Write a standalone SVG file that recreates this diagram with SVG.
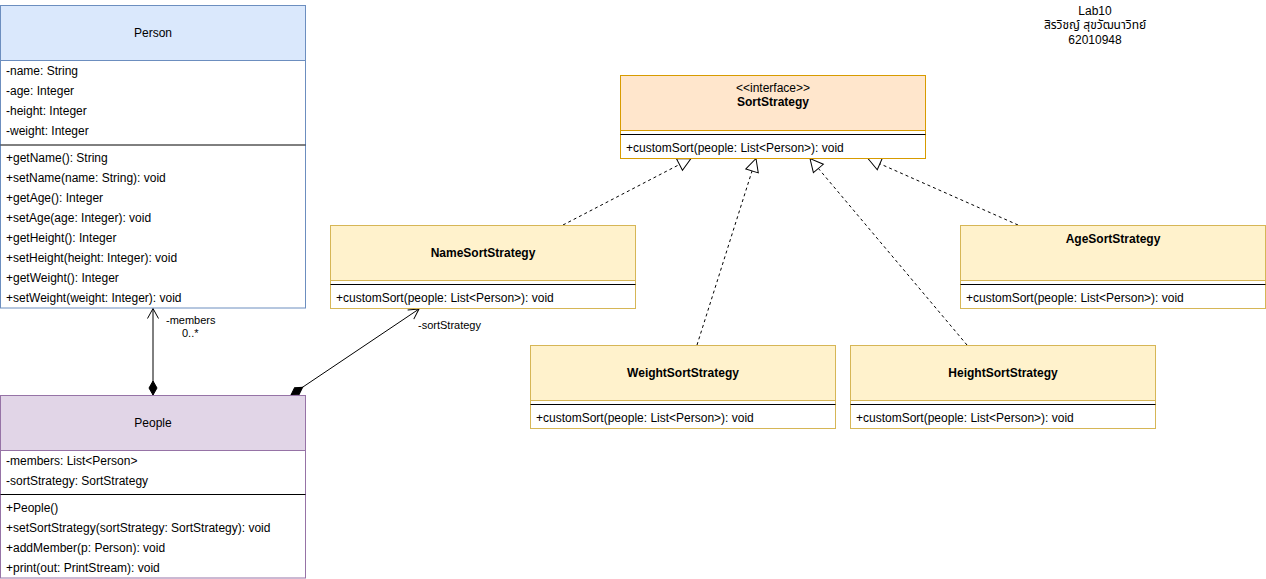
<svg xmlns="http://www.w3.org/2000/svg" width="1266" height="579" viewBox="0 0 1266 579">
  <style>
    text { font-family: "Liberation Sans", Arial, "Noto Sans Thai", sans-serif; font-size: 12px; fill: #000; dominant-baseline: central; }
    .title { text-anchor: middle; }
    .bold { font-weight: bold; }
    .lbl { font-size: 11px; }
    .mid { text-anchor: middle; }
    .body { fill: #ffffff; }
    .sep { stroke: #000; stroke-width: 1; }
    .blue { fill: #dae8fc; stroke: #6c8ebf; }
    .purple { fill: #e1d5e7; stroke: #9673a6; }
    .orange { fill: #ffe6cc; stroke: #d79b00; }
    .yellow { fill: #fff2cc; stroke: #d6b656; }
    .edge { fill: none; stroke: #000; stroke-width: 1; }
    .dash { stroke-dasharray: 3 3; }
  </style>
  <defs>
    <marker id="diamond" markerUnits="userSpaceOnUse" markerWidth="16" markerHeight="10" refX="0" refY="0" orient="auto" overflow="visible">
      <path d="M0,0 L7,-4 L14,0 L7,4 Z" fill="#000" stroke="#000" stroke-width="1"/>
    </marker>
    <marker id="open" markerUnits="userSpaceOnUse" markerWidth="12" markerHeight="12" refX="0" refY="0" orient="auto" overflow="visible">
      <path d="M-10,-5.5 L0,0 L-10,5.5" fill="none" stroke="#000" stroke-width="1"/>
    </marker>
    <marker id="triangle" markerUnits="userSpaceOnUse" markerWidth="14" markerHeight="14" refX="0" refY="0" orient="auto" overflow="visible">
      <path d="M-13,-6.5 L0,0 L-13,6.5 Z" fill="#fff" stroke="#000" stroke-width="1" stroke-dasharray="none"/>
    </marker>
  </defs>

  <rect x="0" y="0" width="1266" height="579" fill="#ffffff"/>

  <!-- connectors -->
  <g id="connectors">
    <path class="edge" d="M153,395 L153,308.5" marker-start="url(#diamond)" marker-end="url(#open)"/>
    <path class="edge" d="M291,395 L419,309" marker-start="url(#diamond)" marker-end="url(#open)"/>
    <path class="edge dash" d="M563,225 L691,158.5" marker-end="url(#triangle)"/>
    <path class="edge dash" d="M697,345 L756,158.5" marker-end="url(#triangle)"/>
    <path class="edge dash" d="M967,345 L810,158.5" marker-end="url(#triangle)"/>
    <path class="edge dash" d="M1018,225 L868,158.5" marker-end="url(#triangle)"/>
    <text class="lbl" x="166" y="320">-members</text>
    <text class="lbl" x="182" y="333">0..*</text>
    <text class="lbl" x="418" y="325">-sortStrategy</text>
  </g>

  <!-- Person -->
  <g id="person">
    <rect class="body" x="0.5" y="5.5" width="305" height="302.5" stroke="#6c8ebf"/>
    <rect class="blue" x="0.5" y="5.5" width="305" height="55"/>
    <text class="title" x="153" y="33">Person</text>
    <text x="6" y="71">-name: String</text>
    <text x="6" y="91">-age: Integer</text>
    <text x="6" y="111">-height: Integer</text>
    <text x="6" y="131">-weight: Integer</text>
    <line class="sep" x1="0.5" y1="145" x2="305.5" y2="145"/>
    <text x="6" y="158">+getName(): String</text>
    <text x="6" y="178">+setName(name: String): void</text>
    <text x="6" y="198">+getAge(): Integer</text>
    <text x="6" y="218">+setAge(age: Integer): void</text>
    <text x="6" y="238">+getHeight(): Integer</text>
    <text x="6" y="258">+setHeight(height: Integer): void</text>
    <text x="6" y="278">+getWeight(): Integer</text>
    <text x="6" y="298">+setWeight(weight: Integer): void</text>
  </g>

  <!-- People -->
  <g id="people">
    <rect class="body" x="0.5" y="395.5" width="305" height="182.5" stroke="#9673a6"/>
    <rect class="purple" x="0.5" y="395.5" width="305" height="55"/>
    <text class="title" x="153" y="423">People</text>
    <text x="6" y="461">-members: List&lt;Person&gt;</text>
    <text x="6" y="481">-sortStrategy: SortStrategy</text>
    <line class="sep" x1="0.5" y1="494.5" x2="305.5" y2="494.5"/>
    <text x="6" y="508">+People()</text>
    <text x="6" y="528">+setSortStrategy(sortStrategy: SortStrategy): void</text>
    <text x="6" y="548">+addMember(p: Person): void</text>
    <text x="6" y="568">+print(out: PrintStream): void</text>
  </g>

  <!-- SortStrategy interface -->
  <g id="sort-strategy">
    <rect class="body" x="620.5" y="75.5" width="305" height="83" stroke="#d79b00"/>
    <rect class="orange" x="620.5" y="75.5" width="305" height="55"/>
    <text class="title" x="773" y="88">&lt;&lt;interface&gt;&gt;</text>
    <text class="title bold" x="773" y="102">SortStrategy</text>
    <line class="sep" x1="620.5" y1="134.5" x2="925.5" y2="134.5"/>
    <text x="626" y="148">+customSort(people: List&lt;Person&gt;): void</text>
  </g>

  <!-- NameSortStrategy -->
  <g id="name-sort-strategy">
    <rect class="body" x="330.5" y="225.5" width="305" height="83" stroke="#d6b656"/>
    <rect class="yellow" x="330.5" y="225.5" width="305" height="55"/>
    <text class="title bold" x="483" y="253">NameSortStrategy</text>
    <line class="sep" x1="330.5" y1="284.5" x2="635.5" y2="284.5"/>
    <text x="336" y="298">+customSort(people: List&lt;Person&gt;): void</text>
  </g>

  <!-- AgeSortStrategy -->
  <g id="age-sort-strategy">
    <rect class="body" x="960.5" y="225.5" width="305" height="83" stroke="#d6b656"/>
    <rect class="yellow" x="960.5" y="225.5" width="305" height="55"/>
    <text class="title bold" x="1113" y="239">AgeSortStrategy</text>
    <line class="sep" x1="960.5" y1="284.5" x2="1265.5" y2="284.5"/>
    <text x="966" y="298">+customSort(people: List&lt;Person&gt;): void</text>
  </g>

  <!-- WeightSortStrategy -->
  <g id="weight-sort-strategy">
    <rect class="body" x="530.5" y="345.5" width="305" height="83" stroke="#d6b656"/>
    <rect class="yellow" x="530.5" y="345.5" width="305" height="55"/>
    <text class="title bold" x="683" y="373">WeightSortStrategy</text>
    <line class="sep" x1="530.5" y1="404.5" x2="835.5" y2="404.5"/>
    <text x="536" y="418">+customSort(people: List&lt;Person&gt;): void</text>
  </g>

  <!-- HeightSortStrategy -->
  <g id="height-sort-strategy">
    <rect class="body" x="850.5" y="345.5" width="305" height="83" stroke="#d6b656"/>
    <rect class="yellow" x="850.5" y="345.5" width="305" height="55"/>
    <text class="title bold" x="1003" y="373">HeightSortStrategy</text>
    <line class="sep" x1="850.5" y1="404.5" x2="1155.5" y2="404.5"/>
    <text x="856" y="418">+customSort(people: List&lt;Person&gt;): void</text>
  </g>

  <!-- author note -->
  <g id="author-note">
    <text class="mid" x="1095" y="11">Lab10</text>
    <text class="mid" x="1095" y="25">สิรวิชญ์ สุขวัฒนาวิทย์</text>
    <text class="mid" x="1095" y="40">62010948</text>
  </g>
</svg>
